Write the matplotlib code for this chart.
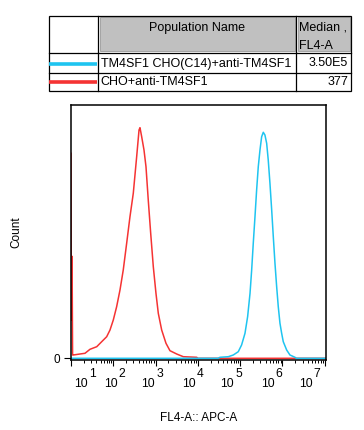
import matplotlib
matplotlib.use("Agg")
import matplotlib.pyplot as plt
import matplotlib.transforms as mtransforms
from matplotlib.patches import Rectangle
from matplotlib.ticker import LogLocator, NullFormatter, FixedLocator

plt.rcParams['font.family'] = ['Liberation Sans', 'DejaVu Sans']

# histogram traces (FL4-A intensity, count)
red_fl4 = [10.0, 10.2, 10.6, 10.9, 11.3, 16.3, 21.4, 28.1, 40.6, 53.2, 69.8, 83.6,
           100, 120, 144, 172, 207, 248, 297, 357, 406, 428, 469, 532, 593, 671,
           766, 883, 1021, 1159, 1393, 1762, 2188, 3155, 4519, 9376, 10000, 1.07e7]
red_count = [205, 38, 102, 3.3, 3.3, 4.3, 5, 9, 11.6, 16.6, 21.6, 28.3,
             38.3, 51.6, 68.3, 88.3, 115, 141.6, 165, 201.6, 228.3, 230.6, 221.6, 208.3, 191.6, 158.3,
             125, 91.6, 65, 45, 28.3, 15, 7.6, 4.3, 1.6, 1.0, 0, 0]

cyan_fl4 = [10.0, 3.0e4, 3.33e4, 5.24e4, 6.87e4, 9.02e4, 1.08e5, 1.30e5, 1.50e5, 1.71e5,
            1.87e5, 2.04e5, 2.24e5, 2.45e5, 2.68e5, 2.94e5, 3.22e5, 3.52e5, 3.85e5,
            4.23e5, 4.61e5, 5.06e5, 5.56e5, 6.07e5, 6.65e5, 7.29e5, 7.96e5, 8.73e5,
            9.57e5, 1.045e6, 1.256e6, 1.503e6, 1.977e6, 2.14e6, 1.07e7]
cyan_count = [0, 0, 1, 1.6, 3.3, 6.6, 13.3, 25, 41.6, 65,
              88.3, 115, 141.6, 168.3, 191.6, 208.3, 221.6, 226, 223.3,
              215, 198.3, 175, 148.3, 121.6, 95, 71.6, 51.6, 35,
              25, 16.6, 8.3, 3.3, 1, 0, 0]

populations = ["TM4SF1 CHO(C14)+anti-TM4SF1", "CHO+anti-TM4SF1"]
medians = ["3.50E5", "377"]
colors = ["#1ec4f0", "#f53333"]

decades = [1, 2, 3, 4, 5, 6, 7]
# where FlowJo put each decade label (log10 units), slightly off the ticks
label_at = [1.31, 2.02, 2.91, 3.87, 4.78, 5.73, 6.63]

fig = plt.figure(figsize=(3.64, 4.30), dpi=100)

# ---- legend table (figure pixel coordinates) ----
tab = fig.add_axes([0, 0, 1, 1])
tab.set_xlim(0, 364)
tab.set_ylim(430, 0)
tab.axis("off")

x0, x1, x2, x3 = 49.3, 98.3, 296, 351
rows = [16, 53.3, 72.7, 91]
for gx0, gx1 in [(x1, x2), (x2, x3)]:
    tab.add_patch(Rectangle((gx0 + 1.7, rows[0] + 1.2), gx1 - gx0 - 3.2, rows[1] - rows[0] - 3.5,
                            facecolor="#c0c0c0", edgecolor="#9a9a9a", lw=0.6))
tab.add_patch(Rectangle((x0, rows[0]), x3 - x0, rows[-1] - rows[0],
                        fill=False, edgecolor="black", lw=0.9))
for y in rows[1:-1]:
    tab.plot([x0, x3], [y, y], color="black", lw=0.9)
for x in [x1, x2]:
    tab.plot([x, x], [rows[0], rows[-1]], color="black", lw=0.9)

tab.text((x1 + x2) / 2, 28, "Population Name", ha="center", va="center", fontsize=9)
tab.text(x2 + 3, 28, "Median ,", ha="left", va="center", fontsize=9)
tab.text(x2 + 3, 45.8, "FL4-A", ha="left", va="center", fontsize=9)
for i, (name, med, c) in enumerate(zip(populations, medians, colors)):
    yc = (rows[i + 1] + rows[i + 2]) / 2 + 0.5
    tab.plot([x0, x1 - 1], [yc, yc], color=c, lw=2.6, solid_capstyle="butt")
    tab.text(x1 + 2.4, yc, name, ha="left", va="center", fontsize=9)
    tab.text(x3 - 2.7, yc, med, ha="right", va="center", fontsize=9)

# ---- histogram ----
ax = fig.add_axes([71 / 364, 70 / 430, 255 / 364, 255 / 430])
ax.plot(red_fl4, red_count, color=colors[1], lw=1.1)
ax.plot(cyan_fl4, cyan_count, color=colors[0], lw=1.1)

ax.set_xscale("log")
ax.set_xlim(10, 1.07e7)
ax.set_ylim(-1.7, 253.3)

for s in ax.spines.values():
    s.set_linewidth(1.1)

ax.xaxis.set_major_locator(FixedLocator([10.0 ** d for d in decades]))
ax.xaxis.set_minor_locator(LogLocator(base=10, subs=range(2, 10), numticks=20))
ax.xaxis.set_major_formatter(NullFormatter())
ax.xaxis.set_minor_formatter(NullFormatter())
ax.tick_params(axis="x", which="major", length=4.2, width=0.8, direction="out")
ax.tick_params(axis="x", which="minor", length=2.4, width=0.7, direction="out")

ax.set_yticks([0])
ax.set_yticklabels(["0"])
ax.tick_params(axis="y", length=5, width=0.8, pad=2.5, labelsize=8.5)

# decade labels drawn as "10" with a raised exponent
trans = mtransforms.blended_transform_factory(ax.transData, ax.transAxes)
for d, pos in zip(decades, label_at):
    c = 10.0 ** pos
    ax.annotate("10", xy=(c, 0), xycoords=trans, xytext=(2.3, -19.2),
                textcoords="offset points", ha="right", va="baseline",
                fontsize=8.7, annotation_clip=False)
    ax.annotate(str(d), xy=(c, 0), xycoords=trans, xytext=(3.4, -12.0),
                textcoords="offset points", ha="left", va="baseline",
                fontsize=8.7, annotation_clip=False)

ax.set_xlabel("FL4-A:: APC-A", fontsize=8.5)
ax.xaxis.set_label_coords(0.5, -0.227)
ax.xaxis.label.set_va("center")
ax.set_ylabel("Count", fontsize=8.5)
ax.yaxis.set_label_coords(-0.216, 0.5)
ax.yaxis.label.set_va("center")

fig.savefig("out.png", dpi=100)
